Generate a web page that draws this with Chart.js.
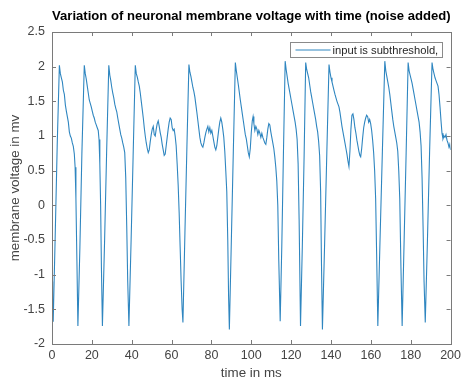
<!DOCTYPE html>
<html>
<head>
<meta charset="utf-8">
<script src="https://cdn.jsdelivr.net/npm/chart.js@4/dist/chart.umd.min.js"></script>
<style>
  html, body { margin: 0; padding: 0; background: #ffffff; }
  #wrap { width: 465px; height: 381px; position: relative; }
</style>
</head>
<body>
<div id="wrap"><canvas id="c" width="465" height="381"></canvas></div>
<script>
// ---- data ----
const chartTitle = 'Variation of neuronal membrane voltage with time (noise added)';
const xAxisTitle = 'time in ms';
const yAxisTitle = 'membrane voltage in mv';
const seriesLabel = 'input is subthreshold,';
const xTicks = [0, 20, 40, 60, 80, 100, 120, 140, 160, 180, 200];
const yTicks = [-2, -1.5, -1, -0.5, 0, 0.5, 1, 1.5, 2, 2.5];

const timeMs = [
  0, 0.3, 0.6, 1.6, 2.6, 3.7,
  4.2, 4.7, 5.2, 5.7, 6.2, 6.7, 7.2, 7.7, 8.2, 8.7, 9.2, 9.7, 10.2, 10.7, 11.2, 11.6, 12.0, 12.5, 13.0,
  14.0, 15.0, 16.2,
  16.7, 17.2, 17.7, 18.2, 18.7, 19.2, 19.7, 20.2, 20.7, 21.2, 21.7, 22.2, 22.7, 23.2, 23.6, 24.0, 24.4, 24.8, 25.3,
  26.4, 27.4, 28.5,
  29.0, 29.5, 30.0, 30.5, 31.0, 31.5, 32.0, 32.5, 33.0, 33.5, 34.0, 34.5, 35.0, 35.5, 36.0, 36.5, 37.0, 37.5, 38.0, 38.6,
  39.7, 40.7, 41.8,
  42.3, 42.8, 43.3, 43.8, 44.3, 44.8, 45.3, 45.8, 46.3, 46.8, 47.3, 47.8, 48.3, 48.8, 49.3, 49.8, 50.3, 50.8, 51.3, 51.8,
  52.3, 52.8, 53.3, 53.8, 54.3, 54.8, 55.3, 55.8, 56.3, 56.8, 57.3, 57.8, 58.3, 58.8, 59.3, 59.8, 60.3, 60.8, 61.3, 61.8,
  62.3, 62.8, 63.3, 63.8, 64.3, 64.8, 65.3, 65.7,
  66.7, 67.7, 68.7,
  69.2, 69.7, 70.2, 70.7, 71.2, 71.7, 72.2, 72.7, 73.2, 73.7, 74.2, 74.7, 75.2, 75.7, 76.2, 76.7, 77.2, 77.7, 78.2, 78.7,
  79.2, 79.7, 80.2, 80.7, 81.2, 81.7, 82.2, 82.7, 83.2, 83.7, 84.2, 84.7, 85.2, 85.7, 86.2, 86.7, 87.2, 87.7, 88.2, 88.6, 89.0,
  90.0, 91.0, 92.0,
  92.5, 93.0, 93.5, 94.0, 94.5, 95.0, 95.5, 96.0, 96.5, 97.0, 97.5, 98.0, 98.5, 99.0, 99.5, 100.0, 100.5, 100.9, 101.3, 101.8,
  102.3, 102.8, 103.3, 103.8, 104.3, 104.8, 105.3, 105.8, 106.3, 106.8, 107.3, 107.8, 108.3, 108.8, 109.3, 109.8, 110.3, 110.8,
  111.3, 111.8, 112.3, 112.8, 113.3, 113.8, 114.5,
  115.3, 116.1, 117.0,
  117.5, 118.0, 118.5, 119.0, 119.5, 120.0, 120.5, 121.0, 121.5, 122.0, 122.5, 123.0, 123.5, 124.0, 124.7,
  125.6, 126.5, 127.3,
  127.8, 128.3, 128.8, 129.3, 129.8, 130.3, 130.8, 131.3, 131.8, 132.3, 132.8, 133.3, 133.8, 134.3, 134.8, 135.2, 135.7,
  136.8, 137.9, 139.0,
  139.5, 140.0, 140.5, 141.0, 141.5, 142.0, 142.5, 143.0, 143.5, 144.0, 144.5, 145.0, 145.5, 146.0, 146.5, 147.0, 147.5, 148.0,
  148.5, 149.0, 149.5, 150.0, 150.5, 151.0, 151.5, 152.0, 152.5, 153.0, 153.5, 154.0, 154.5, 154.9, 155.4, 155.9, 156.4, 156.9,
  157.4, 157.9, 158.4, 158.9, 159.4, 159.9, 160.4, 160.9, 161.4, 161.9, 162.4, 162.9, 163.5,
  164.6, 165.8, 167.0,
  167.5, 168.0, 168.5, 169.0, 169.5, 170.0, 170.5, 171.0, 171.5, 172.0, 172.5, 173.0, 173.5, 174.0, 174.5, 175.1, 175.7,
  176.7, 177.7, 178.7,
  179.2, 179.7, 180.2, 180.7, 181.2, 181.7, 182.2, 182.7, 183.2, 183.7, 184.2, 184.7, 185.2, 185.7, 186.2, 186.7, 187.3,
  188.4, 189.5, 190.7,
  191.2, 191.7, 192.2, 192.7, 193.2, 193.7, 194.2, 194.7, 195.2, 195.7, 196.2, 196.7, 197.2, 197.7, 198.2, 198.7, 199.2, 199.6, 200.0
];

const voltageMv = [
  -1.1, -1.55, -1.68, -0.45, 0.85, 2.02,
  1.9, 1.84, 1.78, 1.66, 1.6, 1.45, 1.36, 1.28, 1.2, 1.06, 1.0, 0.97, 0.9, 0.85, 0.74, 0.55, 0.1, -0.8, -1.74,
  -0.6, 0.75, 2.02,
  1.9, 1.82, 1.72, 1.62, 1.52, 1.47, 1.42, 1.36, 1.3, 1.26, 1.2, 1.16, 1.12, 1.08, 0.95, 0.6, 0.0, -0.9, -1.74,
  -0.5, 0.75, 2.02,
  1.88, 1.8, 1.7, 1.62, 1.55, 1.46, 1.4, 1.35, 1.26, 1.18, 1.1, 1.02, 0.97, 0.9, 0.84, 0.76, 0.4, -0.3, -1.1, -1.74,
  -0.5, 0.7, 2.02,
  1.9, 1.85, 1.78, 1.72, 1.62, 1.5, 1.38, 1.26, 1.12, 1.0, 0.9, 0.82, 0.76, 0.8, 0.92, 1.02, 1.1, 1.14, 1.02, 1.0,
  1.1, 1.18, 1.22, 1.14, 1.05, 0.98, 0.88, 0.8, 0.72, 0.74, 0.86, 0.98, 1.1, 1.2, 1.26, 1.24, 1.12, 1.08, 1.1, 1.0,
  0.86, 0.6, 0.3, -0.1, -0.6, -1.1, -1.5, -1.69,
  -0.4, 0.85, 2.03,
  1.92, 1.86, 1.78, 1.7, 1.64, 1.56, 1.45, 1.34, 1.22, 1.1, 0.98, 0.9, 0.86, 0.84, 0.9, 0.98, 1.05, 1.1, 1.14, 1.06,
  1.12, 1.04, 1.08, 1.0, 0.92, 0.84, 0.8, 0.86, 0.98, 1.1, 1.2, 1.26, 1.2, 1.1, 0.98, 0.78, 0.5, 0.2, -0.5, -1.3, -1.79,
  -0.5, 0.8, 2.06,
  1.94, 1.84, 1.74, 1.63, 1.52, 1.42, 1.32, 1.22, 1.12, 1.02, 0.96, 0.86, 0.76, 0.7, 0.82, 1.05, 1.22, 1.28, 1.18, 1.08,
  1.14, 1.1, 1.02, 1.08, 1.04, 0.98, 1.04, 0.98, 0.94, 0.9, 0.88, 0.98, 1.1, 1.18, 1.16, 1.06, 0.98, 0.9,
  0.82, 0.7, 0.55, 0.35, 0.0, -0.8, -1.67,
  -0.6, 0.7, 2.08,
  1.96, 1.86, 1.76, 1.68, 1.6, 1.52, 1.44, 1.36, 1.28, 1.2, 1.1, 0.95, 0.6, -0.2, -1.74,
  -0.6, 0.7, 2.06,
  1.96, 1.9, 1.84, 1.74, 1.64, 1.56, 1.48, 1.4, 1.32, 1.24, 1.14, 1.06, 0.92, 0.72, 0.2, -0.8, -1.79,
  -0.55, 0.75, 2.03,
  1.92, 1.84, 1.78, 1.72, 1.66, 1.6, 1.55, 1.5, 1.46, 1.42, 1.34, 1.24, 1.14, 1.06, 0.98, 0.9, 0.82, 0.74,
  0.64, 0.56, 0.78, 1.1, 1.3, 1.32, 1.24, 1.12, 1.04, 0.94, 0.86, 0.78, 0.72, 0.7, 0.82, 0.98, 1.12, 1.2,
  1.26, 1.3, 1.28, 1.2, 1.24, 1.18, 1.08, 0.94, 0.76, 0.5, 0.1, -0.7, -1.74,
  -0.5, 0.8, 2.08,
  1.94, 1.86, 1.78, 1.7, 1.6, 1.48, 1.36, 1.24, 1.14, 1.06, 0.98, 0.9, 0.78, 0.5, 0.1, -0.9, -1.74,
  -0.5, 0.75, 2.06,
  1.94, 1.88, 1.82, 1.76, 1.68, 1.6, 1.52, 1.44, 1.36, 1.28, 1.2, 1.06, 0.86, 0.4, -0.3, -1.1, -1.69,
  -0.5, 0.8, 2.06,
  1.96, 1.9, 1.84, 1.8, 1.76, 1.72, 1.6, 1.42, 1.22, 1.04, 0.96, 1.0, 0.98, 1.02, 0.94, 0.9, 0.84, 0.88, 0.8
];

// ---- styling ----
const LINE_COLOR = '#2f86c0';
const AXIS_COLOR = '#7a7a7a';
const TEXT_COLOR = '#444444';
const FONT = "'Liberation Sans', Arial, Helvetica, sans-serif";

const points = timeMs.map((t, i) => ({ x: t, y: voltageMv[i] }));

// MATLAB-like box with inward ticks on all four sides, plus legend box
const matlabAxes = {
  id: 'matlabAxes',
  afterDatasetsDraw(chart) {
    const { ctx, chartArea: a, scales } = chart;
    const len = 4;
    ctx.save();
    ctx.strokeStyle = AXIS_COLOR;
    ctx.lineWidth = 1;
    ctx.beginPath();
    scales.x.ticks.forEach(tk => {
      const px = Math.round(scales.x.getPixelForValue(tk.value)) + 0.5;
      ctx.moveTo(px, a.bottom); ctx.lineTo(px, a.bottom - len);
      ctx.moveTo(px, a.top); ctx.lineTo(px, a.top + len);
    });
    scales.y.ticks.forEach(tk => {
      const py = Math.round(scales.y.getPixelForValue(tk.value)) + 0.5;
      ctx.moveTo(a.left, py); ctx.lineTo(a.left + len, py);
      ctx.moveTo(a.right, py); ctx.lineTo(a.right - len, py);
    });
    ctx.stroke();
    ctx.strokeRect(Math.round(a.left) + 0.5, Math.round(a.top) + 0.5,
                   Math.round(a.right - a.left), Math.round(a.bottom - a.top));

    // legend (top-right inside the axes)
    const ds = chart.data.datasets[0];
    const boxW = 152, boxH = 15;
    const bx = Math.round(a.right) - 9 - boxW + 0.5;
    const by = Math.round(a.top) + 10 + 0.5;
    ctx.fillStyle = '#ffffff';
    ctx.fillRect(bx, by, boxW, boxH);
    ctx.strokeStyle = '#8a8a8a';
    ctx.strokeRect(bx, by, boxW, boxH);
    ctx.strokeStyle = ds.borderColor;
    ctx.lineWidth = 1;
    ctx.beginPath();
    ctx.moveTo(bx + 5, by + boxH / 2);
    ctx.lineTo(bx + 40, by + boxH / 2);
    ctx.stroke();
    ctx.fillStyle = '#262626';
    ctx.font = '11.2px ' + FONT;
    ctx.textBaseline = 'middle';
    ctx.textAlign = 'left';
    ctx.fillText(ds.label, bx + 42, by + boxH / 2 + 0.5);
    ctx.restore();
  }
};

new Chart(document.getElementById('c'), {
  type: 'line',
  data: {
    datasets: [{
      label: seriesLabel,
      data: points,
      borderColor: LINE_COLOR,
      borderWidth: 1.1,
      pointRadius: 0,
      tension: 0,
      fill: false
    }]
  },
  options: {
    responsive: false,
    animation: false,
    events: [],
    layout: { padding: { left: 0, right: 13, top: 0, bottom: 0 } },
    plugins: {
      legend: { display: false },
      tooltip: { enabled: false },
      title: {
        display: true,
        text: chartTitle,
        fullSize: false,
        color: '#000000',
        font: { family: FONT, size: 13.7, weight: 'bold', lineHeight: 1.2 },
        padding: { top: 8.5, bottom: 7.1 }
      }
    },
    scales: {
      x: {
        type: 'linear',
        min: 0,
        max: 200,
        afterBuildTicks: s => { s.ticks = xTicks.map(v => ({ value: v })); },
        afterFit: s => { s.height = 37; },
        grid: { display: false, drawTicks: false },
        border: { display: false },
        ticks: {
          padding: 4,
          maxRotation: 0,
          color: TEXT_COLOR,
          font: { family: FONT, size: 12.5 }
        },
        title: {
          display: true,
          text: xAxisTitle,
          color: TEXT_COLOR,
          font: { family: FONT, size: 13.4, lineHeight: 1.2 },
          padding: { top: 0, bottom: 0 }
        }
      },
      y: {
        type: 'linear',
        min: -2,
        max: 2.5,
        afterBuildTicks: s => { s.ticks = yTicks.map(v => ({ value: v })); },
        afterFit: s => { s.width = 52; },
        grid: { display: false, drawTicks: false },
        border: { display: false },
        ticks: {
          padding: 7,
          color: TEXT_COLOR,
          font: { family: FONT, size: 12.5 },
          callback: v => String(v)
        },
        title: {
          display: true,
          text: yAxisTitle,
          color: TEXT_COLOR,
          font: { family: FONT, size: 13.4, lineHeight: 1.2 },
          padding: { top: 7, bottom: 0 }
        }
      }
    }
  },
  plugins: [matlabAxes]
});
</script>
</body>
</html>
